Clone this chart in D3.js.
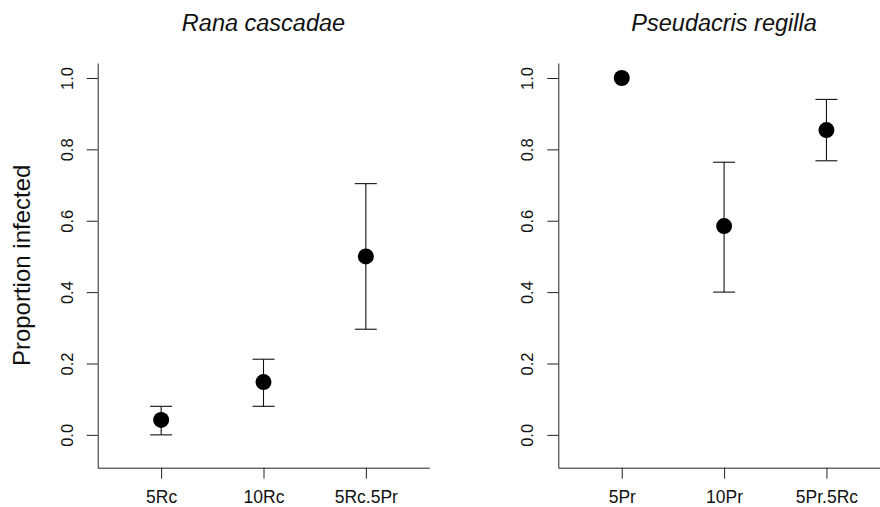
<!DOCTYPE html>
<html>
<head>
<meta charset="utf-8">
<script src="https://cdn.jsdelivr.net/npm/d3@7"></script>
<style>
  html, body { margin: 0; padding: 0; background: #fff; }
  svg { display: block; font-family: "Liberation Sans", Arial, sans-serif; }
</style>
</head>
<body>
<svg id="chart" width="880" height="507"></svg>
<script>
// ---- data ----
const panelTitles = ["Rana cascadae", "Pseudacris regilla"];
const rcCategories = ["5Rc", "10Rc", "5Rc.5Pr"];
const rcMean  = [0.042, 0.148, 0.500];
const rcLower = [0.000, 0.080, 0.296];
const rcUpper = [0.080, 0.212, 0.704];
const prCategories = ["5Pr", "10Pr", "5Pr.5Rc"];
const prMean  = [1.000, 0.585, 0.854];
const prLower = [1.000, 0.400, 0.768];
const prUpper = [1.000, 0.764, 0.940];
const yTicks = [0, 0.2, 0.4, 0.6, 0.8, 1.0];
const yLabel = "Proportion infected";
const yLim = [-0.05, 1.0];

// ---- layout ----
const W = 880, H = 507;
const plotTop = 63, plotBottom = 467.7, plotWidth = 331.6;
const panelLefts = [97.7, 558.3];
const ext = (yLim[1] - yLim[0]) * 0.04;

const svg = d3.select("#chart");

const panels = [
  { title: panelTitles[0], cats: rcCategories, mean: rcMean, lo: rcLower, hi: rcUpper },
  { title: panelTitles[1], cats: prCategories, mean: prMean, lo: prLower, hi: prUpper }
];

panels.forEach((p, i) => {
  const left = panelLefts[i];
  const x = d3.scalePoint().domain(p.cats).range([left, left + plotWidth]).padding(0.62);
  const y = d3.scaleLinear().domain([yLim[0] - ext, yLim[1] + ext]).range([plotBottom, plotTop]);
  const g = svg.append("g");

  // y axis
  const ya = g.append("g")
    .attr("transform", `translate(${left},0)`)
    .call(d3.axisLeft(y).tickValues(yTicks).tickFormat(d3.format(".1f")).tickSize(11).tickSizeOuter(0));
  ya.select(".domain").attr("stroke", "#222");
  ya.selectAll(".tick line").attr("stroke", "#222");
  ya.selectAll(".tick text")
    .attr("x", 0).attr("y", -25).attr("dy", 0)
    .attr("transform", "rotate(-90)")
    .attr("text-anchor", "middle")
    .attr("font-size", 16.5)
    .attr("font-family", "Liberation Sans, Arial, sans-serif")
    .attr("fill", "#111");

  // x axis
  const xa = g.append("g")
    .attr("transform", `translate(0,${plotBottom})`)
    .call(d3.axisBottom(x).tickSize(11).tickSizeOuter(0));
  xa.select(".domain").attr("stroke", "#222");
  xa.selectAll(".tick line").attr("stroke", "#222");
  xa.selectAll(".tick text")
    .attr("y", 35.5).attr("dy", 0)
    .attr("font-size", 17.5)
    .attr("font-family", "Liberation Sans, Arial, sans-serif")
    .attr("fill", "#111");

  // error bars
  const rows = p.cats.map((c, k) => ({ c, m: p.mean[k], lo: p.lo[k], hi: p.hi[k] }));
  const eb = g.append("g").attr("stroke", "#111").attr("stroke-width", 1.1).attr("fill", "none");
  rows.filter(d => d.hi !== d.lo).forEach(d => {
    const cx = x(d.c);
    eb.append("line").attr("x1", cx).attr("x2", cx).attr("y1", y(d.lo)).attr("y2", y(d.hi));
    eb.append("line").attr("x1", cx - 11).attr("x2", cx + 11).attr("y1", y(d.lo)).attr("y2", y(d.lo));
    eb.append("line").attr("x1", cx - 11).attr("x2", cx + 11).attr("y1", y(d.hi)).attr("y2", y(d.hi));
  });

  // points
  g.append("g").selectAll("circle").data(rows).join("circle")
    .attr("cx", d => x(d.c)).attr("cy", d => y(d.m)).attr("r", 8)
    .attr("fill", "#000");

  // title
  g.append("text")
    .attr("x", left + plotWidth / 2).attr("y", 31)
    .attr("text-anchor", "middle")
    .attr("font-size", 23.5).attr("font-style", "italic")
    .attr("fill", "#111")
    .text(p.title);
});

// y label
svg.append("text")
  .attr("transform", `translate(30,${(plotTop + plotBottom) / 2}) rotate(-90)`)
  .attr("text-anchor", "middle")
  .attr("font-size", 24)
  .attr("fill", "#111")
  .text(yLabel);
</script>
</body>
</html>
